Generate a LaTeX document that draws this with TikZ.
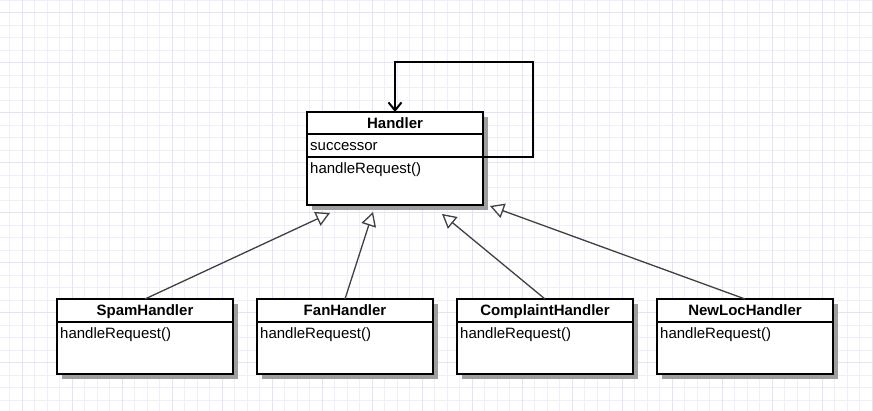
\documentclass[tikz,border=0pt]{standalone}
\usepackage{fontspec}
\setmainfont{Liberation Sans}
\usetikzlibrary{arrows.meta}
\definecolor{gridminor}{HTML}{EEEEFC}
\definecolor{gridmajor}{HTML}{E2E2FA}
\begin{document}
\begin{tikzpicture}[x=1pt,y=-1pt,
  classbox/.style={draw=black, line width=2pt, fill=white, anchor=north west,
    minimum width=176pt, inner sep=0pt, outer sep=0pt},
  shadowbox/.style={fill=black!38, draw=none, anchor=north west,
    minimum width=176pt, inner sep=0pt, outer sep=0pt},
  classtitle/.style={font=\fontsize{15}{18}\selectfont\bfseries, anchor=base, inner sep=0pt},
  member/.style={font=\fontsize{15}{18}\selectfont, anchor=base west, inner sep=0pt},
  sepline/.style={line width=2pt, draw=black},
  inherit/.style={draw=black!75, line width=1.3pt,
    -{Triangle[open,length=14pt,width=15pt,line width=1.3pt,fill=white]}},
  selfloop/.style={draw=black, line width=2pt,
    -{Straight Barb[length=8pt,width=13pt,line width=2pt]}}]
\useasboundingbox (0,0) rectangle (873,411);
\fill[white] (0,0) rectangle (873,411);
% grid
\foreach \x in {9.5,22,...,873} \draw[gridminor, line width=1pt] (\x,0) -- (\x,411);
\foreach \y in {0.5,13,...,411} \draw[gridminor, line width=1pt] (0,\y) -- (873,\y);
\foreach \x in {22,72,...,873} \draw[gridmajor, line width=1pt] (\x,0) -- (\x,411);
\foreach \y in {13,63,...,411} \draw[gridmajor, line width=1pt] (0,\y) -- (873,\y);

% Handler
\node[shadowbox, minimum height=93pt] (hs) at (312,117) {};
\node[classbox, minimum height=93pt] (h) at (307,112) {};
\draw[sepline] ([yshift=-22pt]h.north west) -- ([yshift=-22pt]h.north east);
\draw[sepline] ([yshift=-45pt]h.north west) -- ([yshift=-45pt]h.north east);
\node[classtitle] (ht) at (395,129) {Handler};
\node[member] (ha) at (310,151) {successor};
\node[member] (hm) at (310,174) {handleRequest()};

% subclasses
\foreach \n/\x/\t in {s/57/SpamHandler, f/257/FanHandler, c/457/ComplaintHandler, n/657/NewLocHandler}{
  \node[shadowbox, minimum height=75pt] (\n s) at (\x+5,304) {};
  \node[classbox, minimum height=75pt] (\n) at (\x,299) {};
  \draw[sepline] ([yshift=-23pt]\n.north west) -- ([yshift=-23pt]\n.north east);
  \node[classtitle] (\n t) at (\x+88,316) {\t};
  \node[member] (\n m) at (\x+3,339) {handleRequest()};
}

% self association
\coordinate (lc) at (533,62);
\draw[selfloop] ([yshift=-45pt]h.north east) -| (lc) -| (h.north);

% generalizations
\coordinate (ts) at (330,213);
\coordinate (tf) at (373,212);
\coordinate (tc) at (442,214);
\coordinate (tn) at (490,206);
\draw[inherit] (s.north) -- (ts);
\draw[inherit] (f.north) -- (tf);
\draw[inherit] (c.north) -- (tc);
\draw[inherit] (n.north) -- (tn);
\end{tikzpicture}
\end{document}
